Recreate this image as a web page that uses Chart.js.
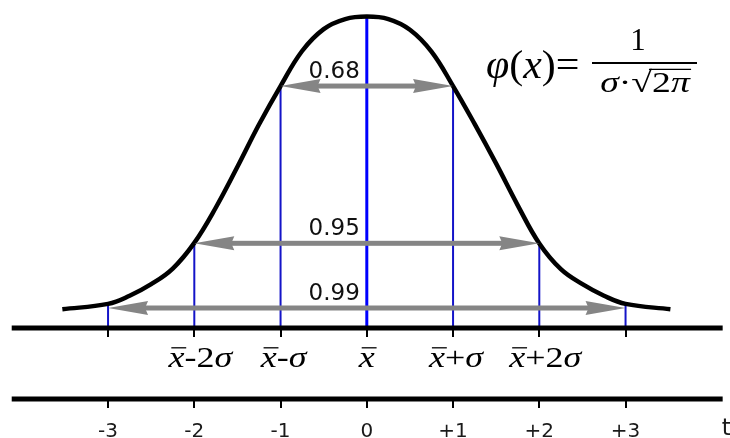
<!DOCTYPE html>
<html><head><meta charset="utf-8">
<script src="https://cdn.jsdelivr.net/npm/chart.js@4"></script>
<style>html,body{margin:0;padding:0;background:#fff;overflow:hidden}#c{display:block}</style>
</head><body>
<canvas id="c" width="730" height="438"></canvas>
<script>
// ---- data (t in sigma units, y = relative height above base axis) ----
const curveT = [-3.53,-3,-2.75,-2.5,-2.25,-2,-1.75,-1.5,-1.25,-1,-0.75,-0.5,-0.25,0,0.25,0.5,0.75,1,1.25,1.5,1.75,2,2.25,2.5,2.75,3,3.52];
const curveY = [0.060,0.077,0.103,0.140,0.190,0.272,0.385,0.515,0.650,0.773,0.885,0.955,0.987,0.995,0.987,0.953,0.883,0.773,0.652,0.525,0.392,0.270,0.188,0.140,0.103,0.077,0.060];
const markT = [-3,-2,-1,0,1,2,3];
const markTop = [0.077,0.272,0.773,0.995,0.773,0.272,0.077];
const tickLabels = ['-3','-2','-1','0','+1','+2','+3'];
const sigmaT = [-2,-1,0,1,2];
const sigmaLabels = ['x\u0304-2σ','x\u0304-σ','x\u0304','x\u0304+σ','x\u0304+2σ'];
const probLabels = ['0.68','0.95','0.99'];
const probHalf = [1,2,3];
const probLevel = [0.773,0.2706,0.0639];
const axisLevels = [0,-0.227];
const axisStart = -4.117, axisEnd = 4.126;
const axisName = 't';
const formulaLeft = 'φ(x)=';
const formulaNum = '1';
const formulaDen = 'σ·√2π';

// ---- datasets ----
const curveData = curveT.map((t,i)=>({x:t,y:curveY[i]}));
const datasets = [{
  data: curveData, borderColor:'#000', borderWidth:4.5, pointRadius:0,
  tension:0.4, fill:false
}];
markT.forEach((t,i)=>{
  datasets.push({
    data:[{x:t,y:0},{x:t,y:markTop[i]}],
    borderColor: t===0 ? '#0000ff' : '#1414c8',
    borderWidth: t===0 ? 3 : 2, pointRadius:0, tension:0
  });
});

const ITALIC = new Set(['x','σ','φ','π']);
function mathParts(str){
  const parts=[];
  for(let i=0;i<str.length;i++){
    const ch=str[i];
    if(ch==='\u0304') continue;
    const bar = str[i+1]==='\u0304';
    parts.push({ch, italic:ITALIC.has(ch), bar});
  }
  return parts;
}
function drawMath(ctx, str, cx, base, size, sx, align){
  const parts=mathParts(str);
  const fontFor=p=>(p.italic?'italic ':'')+size+'px "Liberation Serif", "Times New Roman", serif';
  let w=0;
  parts.forEach(p=>{ctx.font=fontFor(p); p.w=ctx.measureText(p.ch).width; w+=p.w;});
  ctx.save();
  ctx.translate(cx, base);
  ctx.scale(sx,1);
  let x = align==='left' ? 0 : -w/2;
  ctx.fillStyle='#000'; ctx.strokeStyle='#000';
  ctx.textBaseline='alphabetic'; ctx.textAlign='left';
  let sqrtStart=null;
  parts.forEach(p=>{
    ctx.font=fontFor(p);
    ctx.fillText(p.ch, x, 0);
    if(p.bar){
      ctx.lineWidth=1.3;
      ctx.beginPath(); ctx.moveTo(x+size*0.08, -size*0.64); ctx.lineTo(x+p.w+size*0.05, -size*0.64); ctx.stroke();
    }
    if(p.ch==='√') sqrtStart = x+p.w*0.85;
    x+=p.w;
  });
  if(sqrtStart!==null){
    ctx.lineWidth=1.2;
    ctx.beginPath(); ctx.moveTo(sqrtStart, -size*0.78); ctx.lineTo(x+1, -size*0.78); ctx.stroke();
  }
  ctx.restore();
  return w*sx;
}

const overlay = {
  id:'overlay',
  afterDatasetsDraw(chart){
    const ctx=chart.ctx, xs=chart.scales.x, ys=chart.scales.y;
    ctx.save();
    // arrows
    probLabels.forEach((lab,i)=>{
      const x1=xs.getPixelForValue(-probHalf[i]), x2=xs.getPixelForValue(probHalf[i]);
      const y=ys.getPixelForValue(probLevel[i]);
      const L=40, W=7, sh=5;
      ctx.fillStyle='#858585';
      ctx.fillRect(x1+L-4, y-sh/2, (x2-x1)-2*L+8, sh);
      ctx.beginPath(); ctx.moveTo(x1,y); ctx.lineTo(x1+L,y-W); ctx.lineTo(x1+L-3,y); ctx.lineTo(x1+L,y+W); ctx.closePath(); ctx.fill();
      ctx.beginPath(); ctx.moveTo(x2,y); ctx.lineTo(x2-L,y-W); ctx.lineTo(x2-L+3,y); ctx.lineTo(x2-L,y+W); ctx.closePath(); ctx.fill();
      ctx.fillStyle='#111';
      ctx.font='23px "DejaVu Sans", Verdana, sans-serif';
      ctx.textAlign='right'; ctx.textBaseline='alphabetic';
      ctx.fillText(lab, xs.getPixelForValue(0)-7, y-8);
    });
    // axes
    ctx.strokeStyle='#000'; ctx.fillStyle='#000';
    axisLevels.forEach(lv=>{
      const y=ys.getPixelForValue(lv);
      ctx.lineWidth=5;
      ctx.beginPath(); ctx.moveTo(xs.getPixelForValue(axisStart), y); ctx.lineTo(xs.getPixelForValue(axisEnd), y); ctx.stroke();
      ctx.lineWidth=2;
      markT.forEach(t=>{
        const x=Math.round(xs.getPixelForValue(t));
        ctx.beginPath(); ctx.moveTo(x, y+2); ctx.lineTo(x, y+9); ctx.stroke();
      });
    });
    // tick labels
    const yLow=ys.getPixelForValue(axisLevels[1]);
    ctx.font='20px "DejaVu Sans", Verdana, sans-serif';
    ctx.fillStyle='#1a1a1a'; ctx.textAlign='center'; ctx.textBaseline='alphabetic';
    markT.forEach((t,i)=>ctx.fillText(tickLabels[i], xs.getPixelForValue(t), yLow+38));
    ctx.font='23px "DejaVu Sans", Verdana, sans-serif';
    ctx.textAlign='left';
    ctx.fillText(axisName, xs.getPixelForValue(axisEnd)-1, yLow+36);
    // sigma labels
    const yTop=ys.getPixelForValue(axisLevels[0]);
    sigmaT.forEach((t,i)=>{
      drawMath(ctx, sigmaLabels[i], xs.getPixelForValue(t)+ (t<0? t*-3 : t*3), yTop+39, 30, 1.2, 'center');
    });
    // formula
    drawMath(ctx, formulaLeft, 486, 78, 40, 1.05, 'left');
    ctx.lineWidth=1.8; ctx.strokeStyle='#000';
    ctx.beginPath(); ctx.moveTo(592,63); ctx.lineTo(697,63); ctx.stroke();
    drawMath(ctx, formulaNum, 638, 50, 31, 1.0, 'center');
    drawMath(ctx, formulaDen, 645, 92, 29, 1.3, 'center');
    ctx.restore();
  }
};

new Chart(document.getElementById('c'), {
  type:'line',
  data:{datasets},
  options:{
    responsive:false, animation:false, devicePixelRatio:1,
    layout:{padding:0},
    plugins:{legend:{display:false}, tooltip:{enabled:false}},
    scales:{
      x:{type:'linear', display:false, min:-4.2528, max:4.2110},
      y:{type:'linear', display:false, min:-0.3514, max:1.0479}
    }
  },
  plugins:[overlay]
});
</script>
</body></html>
